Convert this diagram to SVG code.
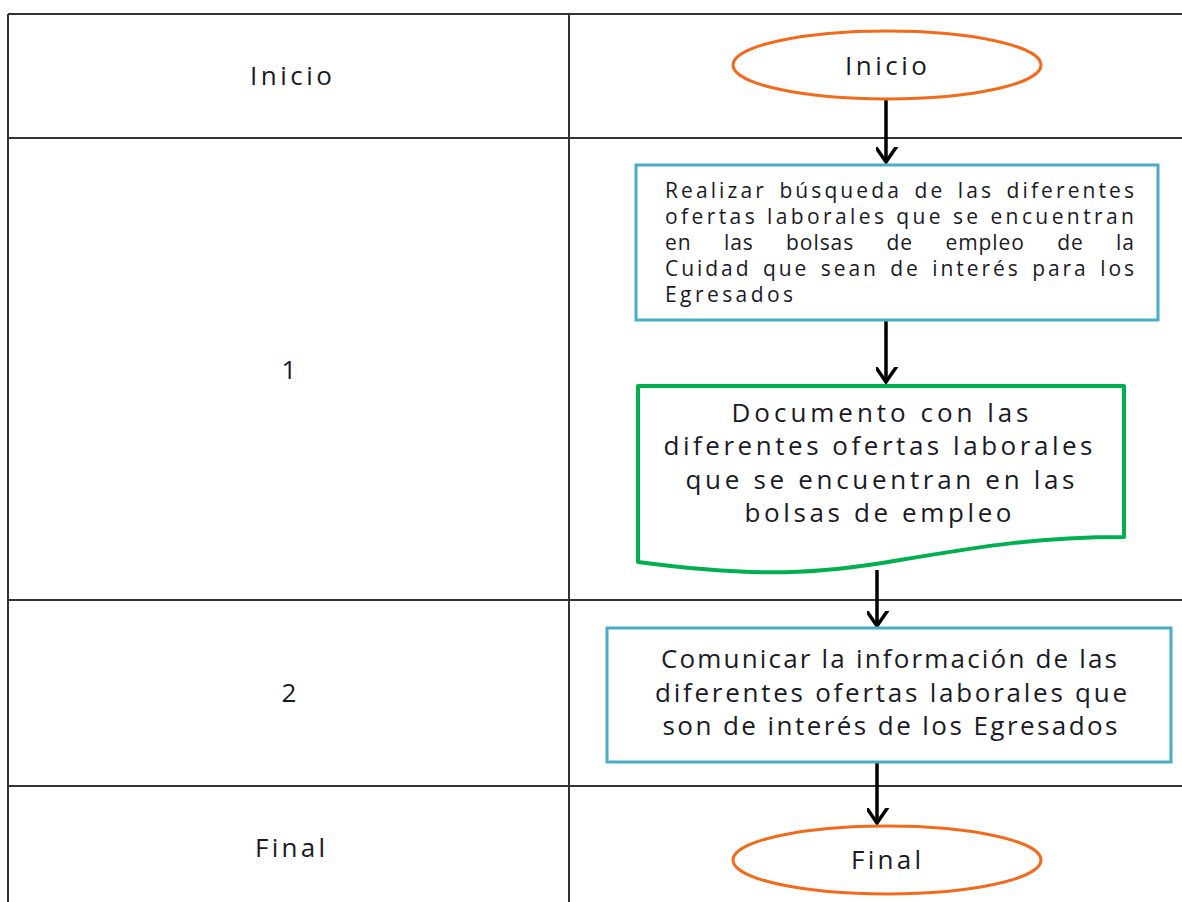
<svg xmlns="http://www.w3.org/2000/svg" width="1182" height="902" viewBox="0 0 1182 902">
<style>
.grid{stroke:#333;stroke-width:2;fill:none}
.t{font-family:"Open Sans","Liberation Sans",sans-serif;fill:#1a1a26;text-anchor:middle;font-weight:500}
.lbl{font-size:26px}
.b1{font-family:"Open Sans","Liberation Sans",sans-serif;fill:#1a1a26;font-size:21px;font-weight:500}
.big{font-size:26px}
.term{fill:#fff;stroke:#F26B1D;stroke-width:3}
.proc{fill:#fff;stroke:#4BACC6;stroke-width:3}
.doc{fill:#fff;stroke:#00B050;stroke-width:4;stroke-linejoin:round}
.conn{stroke:#000;stroke-width:3.5;fill:none}
</style>
<defs>
<marker id="ah" markerUnits="userSpaceOnUse" markerWidth="30" markerHeight="30" viewBox="-15 -20 30 30" refX="0" refY="0" orient="auto-start-reverse">
<path d="M-16,-11 L0,0 L-16,11" fill="none" stroke="#000" stroke-width="3.5"/>
</marker>
</defs>
<rect width="1182" height="902" fill="#fff"/>
<g id="table">
<line class="grid" x1="8" y1="14" x2="1182" y2="14"/>
<line class="grid" x1="8" y1="138" x2="1182" y2="138"/>
<line class="grid" x1="8" y1="600" x2="1182" y2="600"/>
<line class="grid" x1="8" y1="786" x2="1182" y2="786"/>
<line class="grid" x1="8" y1="14" x2="8" y2="902"/>
<line class="grid" x1="569" y1="14" x2="569" y2="902"/>
<text class="t lbl" x="291" y="85" textLength="82" lengthAdjust="spacing">Inicio</text>
<text class="t lbl" x="289" y="379">1</text>
<text class="t lbl" x="289" y="702">2</text>
<text class="t lbl" x="290" y="857" textLength="70" lengthAdjust="spacing">Final</text>
</g>
<g id="connectors">
<line class="conn" x1="886" y1="100" x2="886" y2="162" marker-end="url(#ah)"/>
<line class="conn" x1="886" y1="321" x2="886" y2="382" marker-end="url(#ah)"/>
<line class="conn" x1="877" y1="570" x2="877" y2="626" marker-end="url(#ah)"/>
<line class="conn" x1="877" y1="763" x2="877" y2="823" marker-end="url(#ah)"/>
</g>
<g id="inicio">
<ellipse class="term" cx="887" cy="65" rx="154" ry="34"/>
<text class="t lbl" x="886" y="75" textLength="82" lengthAdjust="spacing">Inicio</text>
</g>
<g id="step1">
<rect class="proc" x="636" y="165" width="522" height="155"/>
<text class="b1" x="665" y="198" textLength="469" lengthAdjust="spacing" word-spacing="4">Realizar búsqueda de las diferentes</text>
<text class="b1" x="665" y="224" textLength="469" lengthAdjust="spacing">ofertas laborales que se encuentran</text>
<text class="b1" x="665" y="250" textLength="469" lengthAdjust="spacing" word-spacing="26">en las bolsas de empleo de la</text>
<text class="b1" x="665" y="276" textLength="469" lengthAdjust="spacing" word-spacing="3">Cuidad que sean de interés para los</text>
<text class="b1" x="665" y="302" textLength="128" lengthAdjust="spacing">Egresados</text>
</g>
<g id="documento">
<path class="doc" d="M638,386 L1124,386 L1124,537 C1040,537 990,545 900,560 C820,574 760,578 638,562 Z"/>
<text class="t big" x="880" y="422" textLength="297" lengthAdjust="spacing">Documento con las</text>
<text class="t big" x="878" y="455" textLength="429" lengthAdjust="spacing">diferentes ofertas laborales</text>
<text class="t big" x="880" y="489" textLength="389" lengthAdjust="spacing">que se encuentran en las</text>
<text class="t big" x="878" y="522" textLength="267" lengthAdjust="spacing">bolsas de empleo</text>
</g>
<g id="step2">
<rect class="proc" x="607" y="628" width="564" height="134"/>
<text class="t big" x="889" y="668" textLength="456" lengthAdjust="spacing">Comunicar la información de las</text>
<text class="t big" x="891" y="702" textLength="472" lengthAdjust="spacing">diferentes ofertas laborales  que</text>
<text class="t big" x="890" y="735" textLength="455" lengthAdjust="spacing">son de interés de los Egresados</text>
</g>
<g id="final">
<ellipse class="term" cx="887" cy="860" rx="154" ry="34"/>
<text class="t lbl" x="886" y="869" textLength="70" lengthAdjust="spacing">Final</text>
</g>
</svg>
